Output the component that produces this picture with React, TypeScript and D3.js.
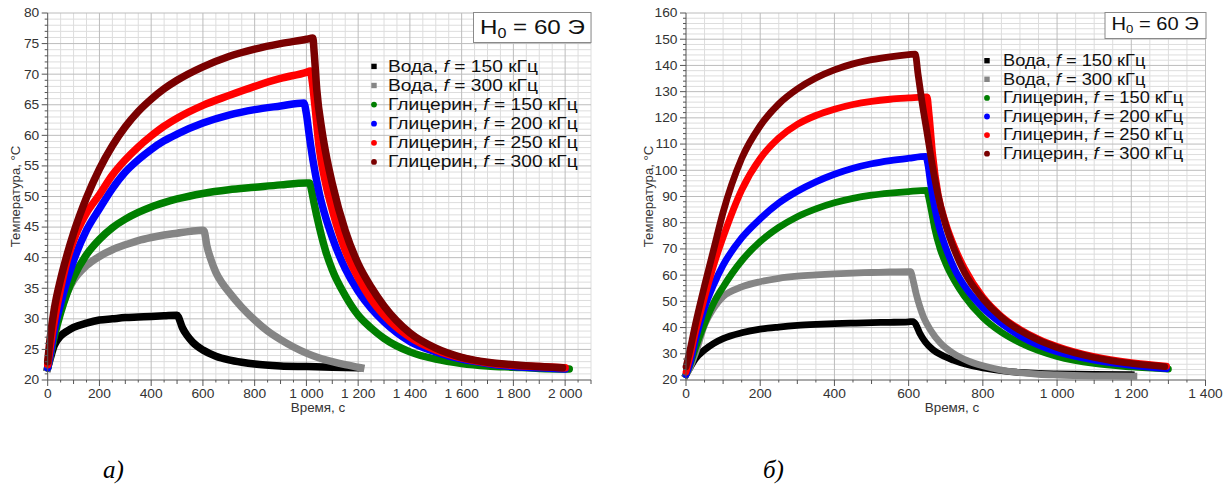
import React from "react";
import * as d3 from "d3";

type Pt = [number, number];

// ---------------- Panel а) : time (s), temperature (°C) ----------------
const aWater150: Pt[] = [[0,22],[10,23.5],[25,25.6],[50,27.2],[75,28.0],[100,28.6],[150,29.3],[200,29.8],[250,30.0],[300,30.2],[350,30.3],[400,30.4],[450,30.5],[500,30.6],[505,30.3],[520,28.6],[540,27.2],[560,26.2],[600,24.9],[650,23.9],[700,23.3],[750,22.9],[800,22.6],[900,22.3],[1000,22.2],[1100,22.1],[1200,22.0]];
const aWater300: Pt[] = [[0,22],[10,24],[25,27.5],[50,31.5],[75,34.3],[100,36.3],[150,38.7],[200,40.2],[250,41.3],[300,42.1],[350,42.8],[400,43.3],[450,43.7],[500,44.0],[550,44.3],[600,44.5],[605,44.3],[615,42],[630,39.8],[650,37.6],[675,35.8],[700,34.4],[750,31.9],[800,29.8],[850,28.0],[900,26.6],[950,25.4],[1000,24.4],[1050,23.6],[1100,23.0],[1150,22.5],[1210,22.0]];
const aGly150: Pt[] = [[0,22],[10,24],[25,27],[50,31],[75,34.2],[100,36.8],[150,40.5],[200,43.0],[250,44.9],[300,46.3],[350,47.4],[400,48.3],[450,49.0],[500,49.6],[600,50.5],[700,51.1],[800,51.5],[900,51.9],[1000,52.2],[1012,52.2],[1020,51.0],[1030,48.8],[1050,45.0],[1075,41.0],[1100,38.0],[1150,33.8],[1200,30.6],[1250,28.5],[1300,26.8],[1400,24.6],[1500,23.4],[1600,22.7],[1700,22.3],[1800,22.1],[1900,21.9],[2016,21.8]];
const aGly200: Pt[] = [[0,22],[10,24.3],[25,28],[50,32.5],[75,36.3],[100,39.5],[150,44.5],[200,48.0],[250,51.3],[300,54.0],[350,56.0],[400,57.7],[450,59.1],[500,60.2],[600,62.0],[700,63.3],[800,64.2],[900,64.8],[990,65.3],[1000,63.5],[1010,60.3],[1025,56.0],[1050,50.5],[1075,46.5],[1100,43.3],[1150,38.2],[1200,34.5],[1250,31.7],[1300,29.5],[1400,26.3],[1500,24.6],[1600,23.4],[1700,22.7],[1800,22.2],[1900,22.0],[2000,21.8]];
const aGly250: Pt[] = [[0,22.5],[10,25.5],[25,29.5],[50,35],[75,39.5],[100,42.8],[150,47.3],[200,50.3],[250,53.5],[300,56.0],[350,58.1],[400,59.9],[450,61.5],[500,62.8],[600,64.9],[700,66.5],[800,68.0],[900,69.3],[1000,70.3],[1015,70.5],[1022,69],[1032,65.2],[1050,57.8],[1075,52.0],[1100,47.8],[1150,41.2],[1200,36.7],[1250,33.2],[1300,30.6],[1400,27.0],[1500,24.9],[1600,23.6],[1700,22.8],[1800,22.4],[1900,22.2],[2000,22.0]];
const aGly300: Pt[] = [[0,23],[10,27],[25,31.5],[50,36.5],[75,40.5],[100,44.0],[150,49.8],[200,54.5],[250,58.3],[300,61.4],[350,63.9],[400,65.9],[450,67.6],[500,69.0],[600,71.2],[700,72.9],[800,74.1],[900,75.0],[1000,75.7],[1025,75.9],[1030,73.5],[1040,67.5],[1060,60.8],[1080,56],[1100,52.1],[1150,44.4],[1200,39.0],[1250,35.2],[1300,32.1],[1400,27.7],[1500,25.2],[1600,23.7],[1700,22.9],[1800,22.5],[1900,22.2],[1990,22.0]];

// ---------------- Panel б) ----------------
const bWater150: Pt[] = [[0,22],[10,24.5],[25,28],[50,31.5],[75,34],[100,35.8],[150,38.0],[200,39.4],[250,40.2],[300,40.8],[350,41.2],[400,41.5],[450,41.7],[500,41.9],[550,42.0],[600,42.2],[612,42.3],[620,41],[630,37.8],[645,34.5],[665,31.6],[690,29.4],[720,27.6],[760,25.8],[800,24.6],[850,23.6],[900,22.9],[950,22.5],[1000,22.3],[1100,22.1],[1200,22.0]];
const bWater300: Pt[] = [[0,22],[10,24.5],[25,30],[50,41],[75,47.5],[100,51.8],[150,55.5],[200,57.5],[250,58.8],[300,59.6],[350,60.1],[400,60.5],[450,60.8],[500,61.0],[550,61.2],[605,61.3],[612,58],[620,53],[630,48],[640,44],[660,38.8],[685,34.2],[720,30.2],[760,27.3],[800,25.4],[850,23.8],[900,22.8],[950,22.2],[1000,21.9],[1100,21.6],[1207,21.5]];
const bGly150: Pt[] = [[0,22],[10,25.5],[25,32],[50,41.5],[75,49.5],[100,55.5],[150,65.5],[200,72.8],[250,78.2],[300,82.3],[350,85.3],[400,87.6],[450,89.3],[500,90.5],[550,91.3],[600,91.9],[648,92.3],[655,89],[662,84],[670,78],[685,70],[700,64.5],[725,57.5],[750,52],[800,43.8],[850,38.2],[900,34.2],[950,31.2],[1000,29.0],[1100,26.3],[1200,25.0],[1300,24.2]];
const bGly200: Pt[] = [[0,22],[10,26],[25,35],[50,47.5],[75,56.5],[100,63.8],[150,74.2],[200,81.5],[250,87.5],[300,92.0],[350,95.6],[400,98.5],[450,100.8],[500,102.5],[550,103.7],[600,104.6],[646,105.3],[652,102],[660,94],[670,86],[680,79.5],[700,70.5],[725,62.0],[750,56.0],[800,47.5],[850,41.5],[900,36.8],[950,33.3],[1000,30.8],[1100,27.6],[1200,25.6],[1295,24.3]];
const bGly250: Pt[] = [[0,23],[10,28.5],[25,38],[50,51.5],[75,64],[100,74.5],[150,92.5],[200,104.5],[250,112.3],[300,117.5],[350,120.9],[400,123.3],[450,125.1],[500,126.3],[550,127.1],[600,127.6],[650,128.0],[655,122],[665,106],[680,90.5],[700,79.8],[725,70.2],[750,62.7],[800,51.6],[850,44.3],[900,39.3],[950,35.6],[1000,32.8],[1100,28.9],[1200,26.6],[1295,25.3]];
const bGly300: Pt[] = [[0,25],[10,31],[25,41],[50,56],[75,70],[100,84],[150,104.5],[200,117],[250,125.3],[300,131.0],[350,135.2],[400,138.3],[450,140.6],[500,142.2],[550,143.3],[600,144.1],[618,144.3],[625,137],[635,127],[650,114],[665,101],[680,90],[700,79],[725,69],[750,61.2],[800,51.0],[850,43.9],[900,38.9],[950,35.2],[1000,32.4],[1100,28.6],[1200,26.3],[1290,25.1]];

// ---------------- Categories / labels ----------------
const seriesMedium = ["Вода", "Вода", "Глицерин", "Глицерин", "Глицерин", "Глицерин"];
const seriesFreq = [150, 300, 150, 200, 250, 300];
const seriesColors = ["#000000", "#858585", "#007f00", "#0000ff", "#ff0000", "#7a0000"];
const seriesMarker = ["square", "square", "circle", "circle", "circle", "circle"];

const aXTickValues = [0, 200, 400, 600, 800, 1000, 1200, 1400, 1600, 1800, 2000];
const aYTickValues = [20, 25, 30, 35, 40, 45, 50, 55, 60, 65, 70, 75, 80];
const bXTickValues = [0, 200, 400, 600, 800, 1000, 1200, 1400];
const bYTickValues = [20, 30, 40, 50, 60, 70, 80, 90, 100, 110, 120, 130, 140, 150, 160];

const yTitle = "Температура, °С";
const xTitle = "Время, с";
const fieldMain = "H";
const fieldSub = "0";
const fieldRest = " = 60 Э";
const panelCaptions = ["а)", "б)"];

const SANS = "'Liberation Sans', Arial, Helvetica, sans-serif";
const SERIF = "'Liberation Serif', 'Times New Roman', serif";

const fmt = (n: number) =>
  n >= 1000 ? `${Math.floor(n / 1000)} ${String(n % 1000).padStart(3, "0")}` : String(n);

function SText(props: any) {
  const { x, y, size, sx = 1.12, anchor = "start", rotate = 0, fill = "#222", family = SANS, children } = props;
  const tr = `translate(${x},${y})` + (rotate ? ` rotate(${rotate})` : "") + ` scale(${sx},1)`;
  return (
    <text transform={tr} fontSize={size} textAnchor={anchor} fill={fill} fontFamily={family}>
      {children}
    </text>
  );
}

const panels = [
  {
    data: [aWater150, aWater300, aGly150, aGly200, aGly250, aGly300],
    xTicks: aXTickValues, yTicks: aYTickValues,
    xMax: 2100, yMax: 80, yMajor: 5, yMinor: 1,
    x0: 47.7, x1: 591, top: 13, bottom: 380,
    lw: 7.5,
    xTitleX: 318, yTitleX: 20,
    leg: { mx: 374, tx: 388, y0: 71.7, dy: 19.1, fs: 17, sx: 1.13 },
    box: { x: 473.5, y: 12.5, w: 117.5, h: 30, tx: 480, ty: 33.5, fs: 21, sub: 14, subDy: 4 },
    cap: { x: 103, y: 478, i: 0 },
  },
  {
    data: [bWater150, bWater300, bGly150, bGly200, bGly250, bGly300],
    xTicks: bXTickValues, yTicks: bYTickValues,
    xMax: 1400, yMax: 160, yMajor: 10, yMinor: 2,
    x0: 686, x1: 1205.5, top: 13, bottom: 380,
    lw: 6.8,
    xTitleX: 952, yTitleX: 652.5,
    leg: { mx: 987, tx: 1003, y0: 66, dy: 18.6, fs: 16, sx: 1.14 },
    box: { x: 1105, y: 12.5, w: 101, h: 26, tx: 1111.5, ty: 29.5, fs: 17.5, sub: 11.5, subDy: 3.5 },
    cap: { x: 763, y: 478, i: 1 },
  },
];

function Panel({ p }: { p: (typeof panels)[number] }) {
  const x = d3.scaleLinear().domain([0, p.xMax]).range([p.x0, p.x1]);
  const y = d3.scaleLinear().domain([20, p.yMax]).range([p.bottom, p.top]);
  const line = d3
    .line<Pt>()
    .x((d) => x(d[0]))
    .y((d) => y(d[1]))
    .curve(d3.curveMonotoneX);

  const vLines = d3.range(50, p.xMax + 0.1, 50);
  const hLines = d3.range(20 + p.yMinor, p.yMax + 0.01, p.yMinor);
  const isMajorX = (t: number) => Math.abs(t % 200) < 1e-6;
  const isMajorY = (v: number) => Math.abs((v - 20) % p.yMajor) < 1e-6;
  const light = "#dddddd";
  const dark = "#bcbcbc";
  const axisC = "#555";

  const xTickAll = d3.range(0, p.xMax + 0.1, 50);
  const yTickAll = d3.range(20, p.yMax + 0.01, p.yMinor);

  return (
    <g>
      {/* grid */}
      {vLines.filter((t) => !isMajorX(t)).map((t) => (
        <line key={"vl" + t} x1={x(t)} x2={x(t)} y1={p.top} y2={p.bottom} stroke={light} strokeWidth={1} />
      ))}
      {hLines.filter((v) => !isMajorY(v)).map((v) => (
        <line key={"hl" + v} x1={p.x0} x2={p.x1} y1={y(v)} y2={y(v)} stroke={light} strokeWidth={1} />
      ))}
      {vLines.filter((t) => isMajorX(t)).map((t) => (
        <line key={"vd" + t} x1={x(t)} x2={x(t)} y1={p.top} y2={p.bottom} stroke={dark} strokeWidth={1} />
      ))}
      {hLines.filter((v) => isMajorY(v)).map((v) => (
        <line key={"hd" + v} x1={p.x0} x2={p.x1} y1={y(v)} y2={y(v)} stroke={dark} strokeWidth={1} />
      ))}

      {/* field box */}
      <rect x={p.box.x} y={p.box.y} width={p.box.w} height={p.box.h} fill="#fff" stroke="#8a8a8a" strokeWidth={1} />
      <text transform={`translate(${p.box.tx},${p.box.ty}) scale(1.15,1)`} fontSize={p.box.fs} fontFamily={SANS} fill="#111">
        {fieldMain}
        <tspan fontSize={p.box.sub} dy={p.box.subDy}>{fieldSub}</tspan>
        <tspan dy={-p.box.subDy}>{fieldRest}</tspan>
      </text>

      {/* legend */}
      {seriesMedium.map((m, i) => {
        const by = p.leg.y0 + i * p.leg.dy;
        const cy = by - 5.3;
        return (
          <g key={"lg" + i}>
            {seriesMarker[i] === "square" ? (
              <rect x={p.leg.mx - 2.7} y={cy - 2.7} width={5.4} height={5.4} fill={seriesColors[i]} />
            ) : (
              <circle cx={p.leg.mx} cy={cy} r={2.9} fill={seriesColors[i]} />
            )}
            <text transform={`translate(${p.leg.tx},${by}) scale(${p.leg.sx},1)`} fontSize={p.leg.fs} fontFamily={SANS} fill="#111">
              <tspan>{m + ", "}</tspan>
              <tspan fontStyle="italic">f</tspan>
              <tspan>{" = " + seriesFreq[i] + " кГц"}</tspan>
            </text>
          </g>
        );
      })}

      {/* series */}
      {p.data.map((d, i) => (
        <path
          key={"s" + i}
          d={line(d) || ""}
          fill="none"
          stroke={seriesColors[i]}
          strokeWidth={p.lw}
          strokeLinejoin="round"
          strokeLinecap={seriesMarker[i] === "square" ? "square" : "round"}
        />
      ))}

      {/* axes */}
      <line x1={p.x0} x2={p.x0} y1={p.top} y2={p.bottom} stroke={axisC} strokeWidth={1} />
      <line x1={p.x0} x2={p.x1} y1={p.bottom} y2={p.bottom} stroke={axisC} strokeWidth={1} />
      {xTickAll.map((t) => {
        const len = isMajorX(t) ? 6 : Math.abs(t % 100) < 1e-6 ? 4 : 2.5;
        return <line key={"xt" + t} x1={x(t)} x2={x(t)} y1={p.bottom} y2={p.bottom + len} stroke={axisC} strokeWidth={1} />;
      })}
      {yTickAll.map((v) => {
        const len = isMajorY(v) ? 6 : 3;
        return <line key={"yt" + v} x1={p.x0 - len} x2={p.x0} y1={y(v)} y2={y(v)} stroke={axisC} strokeWidth={1} />;
      })}
      {p.xTicks.map((t) => (
        <SText key={"xl" + t} x={x(t)} y={398} size={12.3} anchor="middle" fill="#333">
          {fmt(t)}
        </SText>
      ))}
      {p.yTicks.map((v) => (
        <SText key={"yl" + v} x={p.x0 - 8.5} y={y(v) + 4.4} size={12.3} anchor="end" fill="#333">
          {fmt(v)}
        </SText>
      ))}
      <SText x={p.xTitleX} y={412} size={12} anchor="middle" fill="#333">
        {xTitle}
      </SText>
      <SText x={p.yTitleX} y={(p.top + p.bottom) / 2} size={12.5} anchor="middle" rotate={-90} sx={1.05} fill="#333">
        {yTitle}
      </SText>

      {/* caption */}
      <text x={p.cap.x} y={p.cap.y} fontSize={25} fontStyle="italic" fontFamily={SERIF} fill="#000">
        {panelCaptions[p.cap.i]}
      </text>
    </g>
  );
}

export default function App() {
  return (
    <svg
      width={1227}
      height={488}
      viewBox="0 0 1227 488"
      style={{ position: "absolute", left: 0, top: 0, background: "#fff", display: "block" }}
    >
      <rect x={0} y={0} width={1227} height={488} fill="#fff" />
      {panels.map((p, i) => (
        <Panel key={i} p={p} />
      ))}
    </svg>
  );
}
